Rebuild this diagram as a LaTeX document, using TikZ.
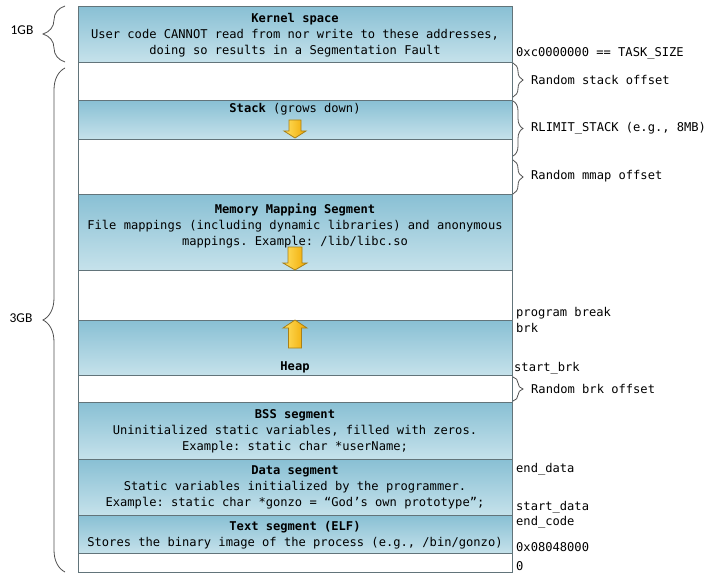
\documentclass[tikz,border=0pt]{standalone}
\usepackage{fontspec}
\setmonofont{DejaVu Sans Mono}
\newfontfamily\gbfont{Carlito}
\usetikzlibrary{decorations.pathreplacing}
\definecolor{segtop}{HTML}{89C0D4}
\definecolor{segbot}{HTML}{C6E2EB}
\definecolor{segline}{HTML}{62747A}
\definecolor{arrlight}{HTML}{FFE060}
\definecolor{arrdark}{HTML}{F0A800}
\definecolor{arrline}{HTML}{A88018}
\definecolor{bracecol}{HTML}{505050}
\newcommand{\memfont}{\ttfamily\fontsize{12.1bp}{16bp}\selectfont}
\begin{document}
\begin{tikzpicture}[x=1bp,y=1bp,
  frame/.style={draw=segline, line width=1.3bp, fill=white, anchor=north west, inner sep=0, minimum width=434bp},
  seg/.style={draw=segline, line width=1.3bp, top color=segtop, bottom color=segbot, anchor=north west, inner sep=0, minimum width=434bp},
  txt/.style={font=\memfont, inner sep=0, align=center},
  lbl/.style={font=\memfont, inner sep=0, anchor=west},
  gb/.style={font=\gbfont\fontsize{13.5bp}{15bp}\selectfont, inner sep=0},
  lbrace/.style={draw=bracecol, line width=0.8bp, decorate, decoration={brace, amplitude=22bp}},
  rbrace/.style={draw=bracecol, line width=0.8bp, decorate, decoration={brace, amplitude=10bp}},
  garrow/.style={left color=arrlight, right color=arrdark, draw=arrline, line width=0.8bp, line join=miter}
]
\useasboundingbox (0,0) rectangle (712,-583);
% outer frame
\node[frame, minimum height=566bp] (mem) at (78,-6) {};
% segments
\node[seg, minimum height=56bp] (kernel) at (78,-6) {};
\node[seg, minimum height=39bp] (stack) at (78,-100) {};
\node[seg, minimum height=76bp] (mmap) at (78,-194) {};
\node[seg, minimum height=55bp] (heap) at (78,-320) {};
\node[seg, minimum height=57bp] (bss) at (78,-402) {};
\node[seg, minimum height=56bp] (data) at (78,-459) {};
\node[seg, minimum height=38bp] (text) at (78,-515) {};
% segment texts
\node[txt] (kt) at (295,-35.5) {\textbf{Kernel space}\\User code CANNOT read from nor write to these addresses,\\doing so results in a Segmentation Fault};
\node[txt] (st) at (295,-109.5) {\textbf{Stack} (grows down)};
\node[txt] (mt) at (295,-225.5) {\textbf{Memory Mapping Segment}\\File mappings (including dynamic libraries) and anonymous\\mappings. Example: /lib/libc.so};
\node[txt] (ht) at (295,-367) {\textbf{Heap}};
\node[txt] (bt) at (295,-431) {\textbf{BSS segment}\\Uninitialized static variables, filled with zeros.\\Example: static char *userName;};
\node[txt] (dt) at (295,-487) {\textbf{Data segment}\\Static variables initialized by the programmer.\\Example: static char *gonzo = “God’s own prototype”;};
\node[txt] (tt) at (295,-535) {\textbf{Text segment (ELF)}\\Stores the binary image of the process (e.g., /bin/gonzo)};
% growth arrows
\path[garrow] (289,-120) -- (301,-120) -- (301,-131) -- (306,-131) -- (295,-138) -- (284,-131) -- (289,-131) -- cycle;
\path[garrow] (288,-247) -- (302,-247) -- (302,-263) -- (307,-263) -- (295,-270) -- (283,-263) -- (288,-263) -- cycle;
\path[garrow] (288.5,-348) -- (301.5,-348) -- (301.5,-328) -- (307,-328) -- (295,-320) -- (283,-328) -- (288.5,-328) -- cycle;
% left braces
\coordinate (g1b) at (65,-62);
\coordinate (g1t) at (65,-6);
\coordinate (g3b) at (65,-572);
\coordinate (g3t) at (65,-68);
\draw[lbrace] (g1b) -- (g1t);
\draw[lbrace] (g3b) -- (g3t);
\node[gb] (gb1) at (22,-30) {1GB};
\node[gb] (gb3) at (21,-318) {3GB};
% right braces
\coordinate (r1t) at (513,-63);
\coordinate (r1b) at (513,-97);
\coordinate (r2t) at (513,-101);
\coordinate (r2b) at (513,-156);
\coordinate (r3t) at (513,-160);
\coordinate (r3b) at (513,-194);
\coordinate (r4t) at (513,-377);
\coordinate (r4b) at (513,-401);
\draw[rbrace] (r1t) -- (r1b);
\draw[rbrace] (r2t) -- (r2b);
\draw[rbrace] (r3t) -- (r3b);
\draw[rbrace] (r4t) -- (r4b);
% right labels
\node[lbl] (task) at (516,-53) {0xc0000000 == TASK\_SIZE};
\node[lbl] (rso) at (531,-80) {Random stack offset};
\node[lbl] (rls) at (531,-128) {RLIMIT\_STACK (e.g., 8MB)};
\node[lbl] (rmo) at (531,-176) {Random mmap offset};
\node[lbl] (pb) at (516,-313) {program break};
\node[lbl] (brk) at (516,-328) {brk};
\node[lbl] (sbrk) at (514,-368) {start\_brk};
\node[lbl] (rbo) at (531,-389) {Random brk offset};
\node[lbl] (ed) at (516,-469) {end\_data};
\node[lbl] (sd) at (516,-507) {start\_data};
\node[lbl] (ec) at (516,-522) {end\_code};
\node[lbl] (ad) at (516,-547) {0x08048000};
\node[lbl] (zero) at (516,-566) {0};
\end{tikzpicture}
\end{document}
